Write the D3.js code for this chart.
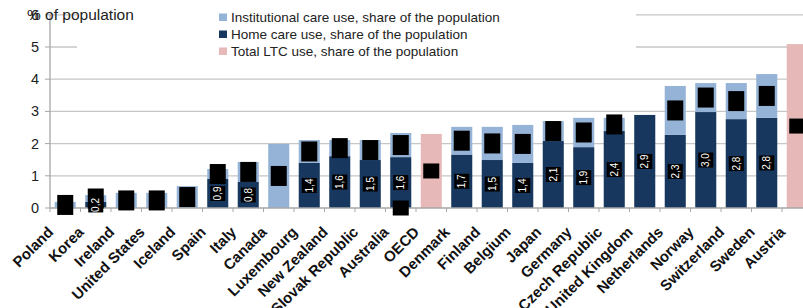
<!DOCTYPE html>
<html><head><meta charset="utf-8">
<script src="https://cdn.jsdelivr.net/npm/d3@7/dist/d3.min.js"></script>
<style>body{margin:0;background:#fff;overflow:hidden}svg{display:block}</style>
</head><body>
<script>
const categories = ["Poland","Korea","Ireland","United States","Iceland","Spain","Italy","Canada","Luxembourg","New Zealand","Slovak Republic","Australia","OECD","Denmark","Finland","Belgium","Japan","Germany","Czech Republic","United Kingdom","Netherlands","Norway","Switzerland","Sweden","Austria"];
const homeCare = [null,0.19,null,null,null,0.9,0.81,null,1.4,1.61,1.49,1.58,null,1.66,1.49,1.4,2.08,1.89,2.39,2.89,2.27,2.98,2.76,2.8,null];
const institutional = [0.19,0.21,0.47,0.47,0.68,0.31,0.62,1.99,0.71,0.5,0.62,0.75,null,0.86,1.03,1.18,0.62,0.91,0.41,null,1.52,0.9,1.12,1.36,null];
const totalLTC = [null,null,null,null,null,null,null,null,null,null,null,0,2.3,null,null,null,null,null,null,null,null,null,null,null,5.09];
const yTicks = [0,1,2,3,4,5,6];
const legendLabels = ["Institutional care use, share of the population","Home care use, share of the population","Total LTC use, share of the population"];
const fmt = v => d3.format(".1f")(v).replace(".", ",");

const W = 803, H = 308;
const colInst = "#95b3d7", colHome = "#17375e", colTot = "#e6b9b8";
const svg = d3.select("body").append("svg").attr("width", W).attr("height", H);

const step = 30.5;
const x = d3.scaleBand().domain(categories).range([50, 50 + categories.length * step]).paddingInner(0.31).paddingOuter(0.155);
const y = d3.scaleLinear().domain([0, 6]).range([208, 14.8]);

// gridlines
svg.append("g").selectAll("line").data(yTicks.filter(d => d > 0)).join("line")
  .attr("x1", 50).attr("x2", W).attr("y1", d => y(d)).attr("y2", d => y(d))
  .attr("stroke", "#c6c6c6").attr("stroke-width", 1.3);

const rows = categories.map((c, i) => ({c, home: homeCare[i], inst: institutional[i], tot: totalLTC[i]}));
const bw = x.bandwidth();
const g = svg.append("g");
g.selectAll(".home").data(rows.filter(d => d.home)).join("rect")
  .attr("x", d => x(d.c)).attr("width", bw)
  .attr("y", d => y(d.home)).attr("height", d => y(0) - y(d.home)).attr("fill", colHome);
g.selectAll(".inst").data(rows.filter(d => d.inst)).join("rect")
  .attr("x", d => x(d.c)).attr("width", bw)
  .attr("y", d => y((d.home || 0) + d.inst)).attr("height", d => y(d.home || 0) - y((d.home || 0) + d.inst)).attr("fill", colInst);
g.selectAll(".tot").data(rows.filter(d => d.tot)).join("rect")
  .attr("x", d => x(d.c)).attr("width", bw)
  .attr("y", d => y(d.tot)).attr("height", d => y(0) - y(d.tot)).attr("fill", colTot);

// legend background
svg.append("rect").attr("x", 77).attr("y", 0).attr("width", 559).attr("height", 62).attr("fill", "#fff");
const leg = svg.append("g");
[colInst, colHome, colTot].forEach((c, i) => {
  leg.append("rect").attr("x", 219).attr("y", 13.5 + i * 17).attr("width", 8).attr("height", 7.5).attr("fill", c);
  leg.append("text").attr("x", 231).attr("y", 22 + i * 17).attr("font-family", "Liberation Sans, Arial, sans-serif")
    .attr("font-size", 13.5).attr("fill", "#222").text(legendLabels[i]);
});

// axes
svg.append("line").attr("x1", 50).attr("x2", 50).attr("y1", y(6)).attr("y2", y(0)).attr("stroke", "#a6a6a6").attr("stroke-width", 1.3);
svg.append("line").attr("x1", 50).attr("x2", W).attr("y1", y(0)).attr("y2", y(0)).attr("stroke", "#a6a6a6").attr("stroke-width", 1.3);
svg.append("g").selectAll("line").data(yTicks).join("line")
  .attr("x1", 45).attr("x2", 50).attr("y1", d => y(d)).attr("y2", d => y(d)).attr("stroke", "#a6a6a6");
svg.append("g").selectAll("line").data(d3.range(categories.length + 1)).join("line")
  .attr("x1", i => 50 + i * step).attr("x2", i => 50 + i * step).attr("y1", y(0)).attr("y2", y(0) + 4).attr("stroke", "#a6a6a6");
svg.append("g").selectAll("text").data(yTicks).join("text")
  .attr("x", 39).attr("y", d => y(d)).attr("dy", "0.35em").attr("text-anchor", "end")
  .attr("font-family", "Liberation Sans, Arial, sans-serif").attr("font-size", 14.5).attr("fill", "#222").text(d => d);
svg.append("text").attr("x", 27).attr("y", 20).attr("font-family", "Liberation Sans, Arial, sans-serif")
  .attr("font-size", 15.5).attr("fill", "#222").text("% of population");

// x labels
svg.append("g").selectAll("text").data(categories).join("text")
  .attr("transform", d => `translate(${x(d) + bw / 2 - 11},${233}) rotate(-45)`)
  .attr("text-anchor", "end").attr("font-family", "Liberation Sans, Arial, sans-serif")
  .attr("font-weight", "bold").attr("font-size", 15).attr("fill", "#111").text(d => d);

// data labels (rendered as black boxes)
const lab = svg.append("g").attr("font-family", "Liberation Sans, Arial, sans-serif");
function boxLabel(cx, cy, w, h, txt, col, rot) {
  lab.append("rect").attr("x", cx - w / 2).attr("y", cy - h / 2).attr("width", w).attr("height", h).attr("fill", "#000");
  lab.append("text").attr("transform", `translate(${cx},${cy}) rotate(${rot})`)
    .attr("text-anchor", "middle").attr("dy", "0.35em").attr("font-size", 10).attr("fill", col).text(txt);
}
rows.forEach(d => {
  const cx = x(d.c) + bw / 2;
  if (d.inst) {
    const b = d.home || 0;
    boxLabel(cx, (y(b) + y(b + d.inst)) / 2, 16, 20, fmt(d.inst), "#000", -90);
  }
  if (d.tot != null) {
    boxLabel(cx, (y(0) + y(d.tot)) / 2, 16, 15, fmt(d.tot), "#000", -90);
  }
});
rows.forEach(d => {
  const cx = x(d.c) + bw / 2;
  if (d.home) {
    boxLabel(cx, (y(0) + y(d.home)) / 2, 15, 15, fmt(d.home), "#fff", -90);
  }
});
</script>
</body></html>
